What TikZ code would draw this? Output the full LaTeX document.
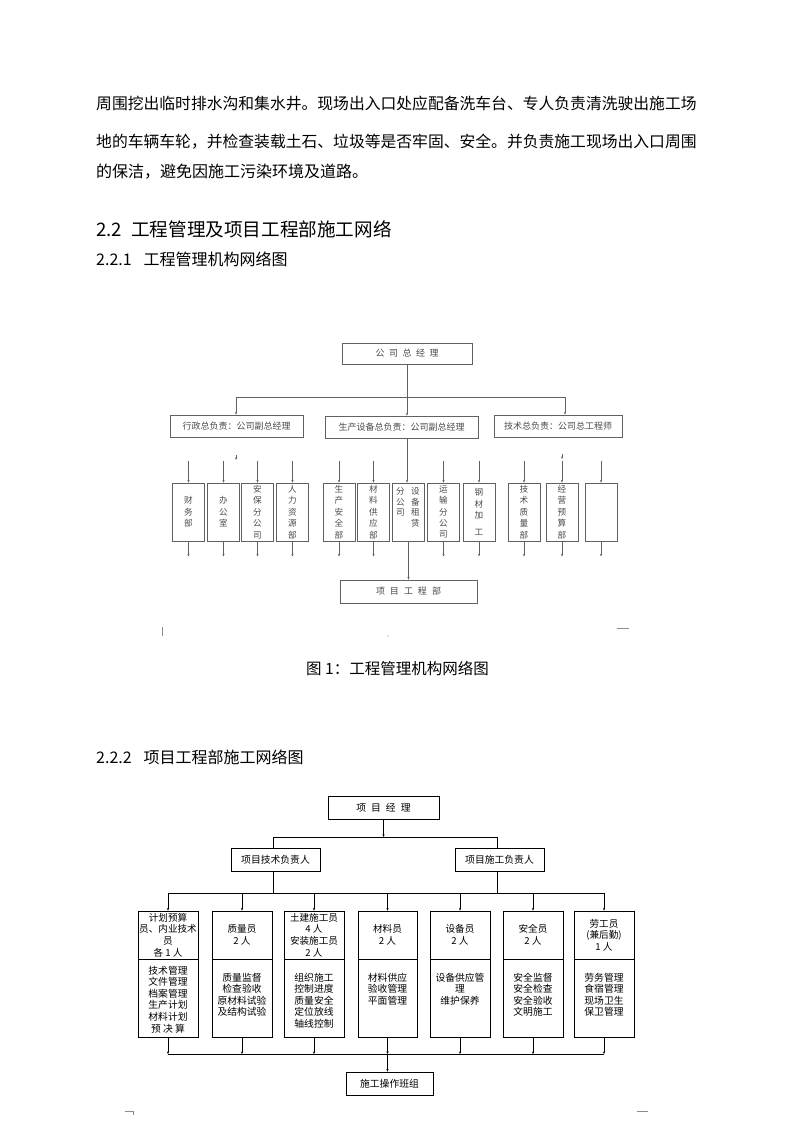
\documentclass[tikz,border=0pt]{standalone}
\usepackage{fontspec}
\newfontfamily\cjk{Noto Sans CJK SC}
\usetikzlibrary{arrows.meta}
\newcommand\myfs[2]{\fontsize{#1}{#2}\selectfont}
\begin{document}
\begin{tikzpicture}[x=1pt,y=-1pt,
  txt/.style={inner sep=0pt,font=\cjk},
  arr/.style={-{Stealth[length=2.6pt,width=2.2pt]}},
  lnA/.style={draw=black!62,line width=0.8pt},
  lnB/.style={draw=black,line width=0.8pt},
  hdA/.style={draw=black!62,line width=0.8pt,inner sep=0pt,font=\cjk\myfs{9}{11},text=black!70},
  vbA/.style={draw=black!62,line width=0.8pt,inner sep=0pt,minimum width=32,minimum height=58,align=center,font=\cjk\myfs{8.6}{11.4},text=black!70},
  vtA/.style={inner sep=0pt,align=center,font=\cjk\myfs{8.6}{10.5},text=black!70},
  hdB/.style={draw=black,line width=0.8pt,inner sep=0pt,minimum height=23,font=\cjk\myfs{9.8}{11}},
  tpB/.style={draw=black,line width=0.8pt,inner sep=0.5pt,minimum width=60,minimum height=48,align=center,font=\cjk\myfs{9.6}{11.6}},
  btB/.style={draw=black,line width=0.8pt,inner sep=0pt,minimum width=60,minimum height=78},
  bxB/.style={inner sep=0pt,align=center,font=\cjk\myfs{9.8}{11.6}},
  art/.style={draw=black!45,line width=0.6pt}
]
\useasboundingbox[fill=white] (0,0) rectangle (793,1122);

% ---------- body text ----------
\node[txt,anchor=west] (p1) at (96,104) {\myfs{15.8}{18}周围挖出临时排水沟和集水井。现场出入口处应配备洗车台、专人负责清洗驶出施工场};
\node[txt,anchor=west] (p2) at (96,142) {\myfs{15.8}{18}地的车辆车轮，并检查装载土石、垃圾等是否牢固、安全。并负责施工现场出入口周围};
\node[txt,anchor=west] (p3) at (96,172) {\myfs{16}{18}的保洁，避免因施工污染环境及道路。};
\node[txt,anchor=west] (h1) at (96,229) {\myfs{18.6}{20}2.2\hspace{0.5em}工程管理及项目工程部施工网络};
\node[txt,anchor=west] (h2) at (96,259) {\myfs{16}{18}2.2.1\hspace{0.75em}工程管理机构网络图};

% ---------- diagram 1 ----------
\node[hdA,minimum width=130,minimum height=21] (top1) at (407,353.5) {公\hspace{4.5pt}司\hspace{4.5pt}总\hspace{4.5pt}经\hspace{4.5pt}理};
\node[hdA,minimum width=133,minimum height=22] (L1) at (236.5,426) {行政总负责：公司副总经理};
\node[hdA,minimum width=153,minimum height=22] (M1) at (401.5,427) {生产设备总负责：公司副总经理};
\node[hdA,minimum width=128,minimum height=22] (R1) at (558,426) {技术总负责：公司总工程师};

\coordinate (hl) at (236,397);
\coordinate (hr) at (565,397);
\draw[lnA,arr] (top1.south) -- (top1.south |- M1.north);
\draw[lnA] (hl) -- (hr);
\draw[lnA,arr] (hl) -- (hl |- L1.north);
\draw[lnA,arr] (hr) -- (hr |- R1.north);

\node[vbA] (b1) at (188.5,512) {财\\务\\部};
\node[vbA] (b2) at (223.5,512) {办\\公\\室};
\node[vbA] (b3) at (257.5,512) {安\\保\\分\\公\\司};
\node[vbA] (b4) at (292.5,512) {人\\力\\资\\源\\部};
\node[vbA] (b5) at (339,512) {生\\产\\安\\全\\部};
\node[vbA] (b6) at (373.5,512) {材\\料\\供\\应\\部};
\node[vbA] (b7) at (408.5,512) {};
\node[vtA,anchor=north] (b7a) at ([xshift=-8pt,yshift=-5pt]b7.north) {分\\公\\司};
\node[vtA,anchor=north] (b7b) at ([xshift=7pt,yshift=-5pt]b7.north) {设\\备\\租\\赁};
\node[vbA] (b8) at (443.5,512) {运\\输\\分\\公\\司};
\node[vbA] (b9) at (479,512) {钢\\材\\加\\[5pt]工};
\node[vbA] (b10) at (524,512) {技\\术\\质\\量\\部};
\node[vbA] (b11) at (562,512) {经\\营\\预\\算\\部};
\node[vbA] (b12) at (601,512) {};

\node[hdA,minimum width=137,minimum height=23] (PD) at (408.5,591.5) {项\hspace{5pt}目\hspace{5pt}工\hspace{5pt}程\hspace{5pt}部};

% connectors into lower boxes
\draw[lnA,arr] (top1.south |- M1.south) -- (top1.south |- b7.north);
\foreach \b in {b1,b2,b3,b4,b5,b6,b8,b9,b10,b11,b12}{
  \draw[lnA,arr] ([yshift=22pt]\b.north) -- (\b.north);
}
\coordinate (tkL) at (236,455);
\draw[lnA,arr] (tkL) -- ([yshift=-5pt]tkL);
\coordinate (tkR) at (562,454);
\draw[lnA,arr] (tkR) -- ([yshift=-5pt]tkR);
% connectors out of lower boxes
\foreach \b in {b1,b2,b3,b4,b5,b6,b8,b9,b10,b11,b12}{
  \draw[lnA,arr] (\b.south) -- ([yshift=-15pt]\b.south);
}
\draw[lnA,arr] (b7.south) -- (b7.south |- PD.north);

% small marks
\coordinate (m1) at (162,627);
\draw[art] (m1) -- ([yshift=-9pt]m1);
\coordinate (m2) at (388,636);
\fill[black!45] (m2) circle (0.6pt);
\coordinate (m3) at (617,628);
\draw[art] (m3) -- ([xshift=12pt]m3);

\node[txt] (cap) at (397.5,669) {\myfs{15.5}{17}图 1：工程管理机构网络图};

% ---------- diagram 2 ----------
\node[txt,anchor=west] (h3) at (96,757) {\myfs{16}{18}2.2.2\hspace{0.75em}项目工程部施工网络图};

\node[hdB,minimum width=111] (PM) at (383.5,807.5) {项\hspace{5pt}目\hspace{5pt}经\hspace{5pt}理};
\node[hdB,minimum width=89] (TL) at (275.5,859.5) {项目技术负责人};
\node[hdB,minimum width=89] (CL) at (499.5,859.5) {项目施工负责人};

\coordinate (h2l) at (273,837);
\coordinate (h2r) at (497,837);
\draw[lnB,arr] (PM.south) -- (PM.south |- h2l);
\draw[lnB] (h2l) -- (h2r);
\draw[lnB] (h2l) -- (h2l |- TL.north);
\draw[lnB] (h2r) -- (h2r |- CL.north);

\coordinate (h3l) at (168,893);
\coordinate (h3r) at (604,893);
\draw[lnB] (h2l |- TL.south) -- (h2l |- h3l);
\draw[lnB] (h2r |- CL.south) -- (h2r |- h3l);
\draw[lnB] (h3l) -- (h3r);

\node[tpB] (t1) at (168,935) {计划预算\\员、内业技术\\员\\各 1 人};
\node[tpB] (t2) at (242,935) {质量员\\2 人};
\node[tpB] (t3) at (314,935) {土建施工员\\4 人\\安装施工员\\2 人};
\node[tpB,minimum width=59] (t4) at (387.5,935) {材料员\\2 人};
\node[tpB] (t5) at (460,935) {设备员\\2 人};
\node[tpB] (t6) at (533,935) {安全员\\2 人};
\node[tpB] (t7) at (604,935) {劳工员\\(兼后勤)\\1 人};

\node[btB] (d1) at (168,998) {};
\node[btB] (d2) at (242,998) {};
\node[btB] (d3) at (314,998) {};
\node[btB,minimum width=59] (d4) at (387.5,998) {};
\node[btB] (d5) at (460,998) {};
\node[btB] (d6) at (533,998) {};
\node[btB] (d7) at (604,998) {};

\node[bxB,anchor=north] (e1) at ([yshift=-7pt]d1.north) {技术管理\\文件管理\\档案管理\\生产计划\\材料计划\\预 决 算};
\node[bxB,anchor=north] (e2) at ([yshift=-14pt]d2.north) {质量监督\\检查验收\\原材料试验\\及结构试验};
\node[bxB,anchor=north] (e3) at ([yshift=-14pt]d3.north) {组织施工\\控制进度\\质量安全\\定位放线\\轴线控制};
\node[bxB,anchor=north] (e4) at ([yshift=-14pt]d4.north) {材料供应\\验收管理\\平面管理};
\node[bxB,anchor=north] (e5) at ([yshift=-14pt]d5.north) {设备供应管\\理\\维护保养};
\node[bxB,anchor=north] (e6) at ([yshift=-14pt]d6.north) {安全监督\\安全检查\\安全验收\\文明施工};
\node[bxB,anchor=north] (e7) at ([yshift=-14pt]d7.north) {劳务管理\\食宿管理\\现场卫生\\保卫管理};

\foreach \t in {t1,t2,t3,t4,t5,t6,t7}{
  \draw[lnB,arr] (\t.north |- h3l) -- (\t.north);
}

\coordinate (h4l) at (168,1054);
\coordinate (h4r) at (604,1054);
\node[hdB,minimum width=87] (OP) at (389.5,1083.5) {施工操作班组};
\foreach \d in {d1,d2,d3,d4,d5,d6,d7}{
  \draw[lnB,arr] (\d.south) -- (\d.south |- h4l);
}
\draw[lnB] (h4l) -- (h4r);
\draw[lnB,arr] (d4.south |- h4l) -- (d4.south |- OP.north);

% small marks
\coordinate (m4) at (125,1111);
\draw[art] (m4) -- ([xshift=8pt]m4) -- ([xshift=8pt,yshift=-4pt]m4);
\coordinate (m5) at (637,1111);
\draw[art] (m5) -- ([xshift=11pt]m5);
\end{tikzpicture}
\end{document}
